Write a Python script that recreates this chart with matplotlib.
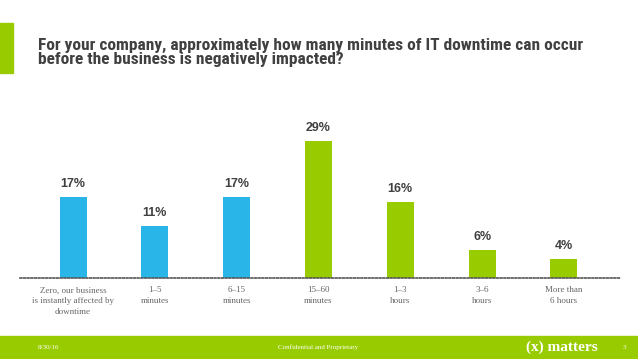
import matplotlib
matplotlib.use("Agg")
import matplotlib.pyplot as plt
from matplotlib.patches import Rectangle
from matplotlib import font_manager

categories = ["Zero, our business\nis instantly affected by\ndowntime", "1–5\nminutes", "6–15\nminutes",
              "15–60\nminutes", "1–3\nhours", "3–6\nhours", "More than\n6 hours"]
values = [17, 11, 17, 29, 16, 6, 4]
labels = ["17%", "11%", "17%", "29%", "16%", "6%", "4%"]
BLUE = "#29B5E8"
GREEN = "#99CC00"
colors = [BLUE, BLUE, BLUE, GREEN, GREEN, GREEN, GREEN]
TXT = "#404040"

W, H = 638, 359
fig = plt.figure(figsize=(W/100, H/100), dpi=100)
fig.patch.set_facecolor("white")

ax = fig.add_axes([20/W, (H-278)/H, 600/W, 178/H])
ax.set_facecolor("none")
x = list(range(len(categories)))
ax.bar(x, values, width=0.33, color=colors, zorder=2)
ax.set_xlim(-0.648, 6.685)
ax.set_ylim(0, 178/4.74)
for xi, v, lab in zip(x, values, labels):
    ax.annotate(lab, (xi, v), xytext=(0, 5), textcoords="offset points",
                ha="center", va="bottom", fontsize=9, fontweight="bold",
                color=TXT, family=["Liberation Sans", "DejaVu Sans"])
for s in ["top", "right", "left"]:
    ax.spines[s].set_visible(False)
ax.spines["bottom"].set_linestyle((0, (1, 1.2)))
ax.spines["bottom"].set_color("#555555")
ax.spines["bottom"].set_linewidth(1.2)
ax.set_yticks([])
ax.set_xticks(x)
ax.set_xticklabels(categories, fontsize=6.5, color="#666666",
                   family=["Liberation Serif", "DejaVu Serif"], linespacing=1.45)
ax.tick_params(axis="x", length=0, pad=6)

fig.add_artist(Rectangle((0, (H-73)/H), 13/W, 50/H, transform=fig.transFigure,
                         color=GREEN, zorder=0))

names = {f.name for f in font_manager.fontManager.ttflist}
fam = ["Liberation Sans", "DejaVu Sans"]
stretch = "normal"
for cand in ["Liberation Sans Narrow", "Arial Narrow", "Roboto Condensed", "Open Sans Condensed"]:
    if cand in names:
        fam = [cand, "DejaVu Sans"]
        break
else:
    if any(f.name == "DejaVu Sans" and f.stretch == "condensed" for f in font_manager.fontManager.ttflist):
        fam = ["DejaVu Sans"]
        stretch = "condensed"

title = fig.text(38/W, (H-38)/H,
                 "For your company, approximately how many minutes of IT downtime can occur\nbefore the business is negatively impacted?",
                 ha="left", va="top", fontsize=12, fontweight="bold", color=TXT,
                 family=fam, fontstretch=stretch, linespacing=0.92)
fig.canvas.draw()
wpx = title.get_window_extent().width
title.set_fontsize(12 * 546 / wpx)

fig.add_artist(Rectangle((0, 0), 1, 23/H, transform=fig.transFigure,
                         color=GREEN, zorder=0))
fy = 11.5/H
fig.text(38/W, fy, "8/30/16", ha="left", va="center", fontsize=5, color="white",
         family=["Liberation Serif", "DejaVu Serif"])
fig.text(318/W, fy, "Confidential and Proprietary", ha="center", va="center",
         fontsize=5, color="white", family=["Liberation Serif", "DejaVu Serif"])
fig.text(562/W, fy, "(x) matters", ha="center", va="center", fontsize=11,
         fontweight="bold", color="white", family=["Liberation Serif", "DejaVu Serif"])
fig.text(624/W, fy, "3", ha="center", va="center", fontsize=5, color="white",
         family=["Liberation Serif", "DejaVu Serif"])

fig.savefig("out.png", dpi=100, facecolor="white")
